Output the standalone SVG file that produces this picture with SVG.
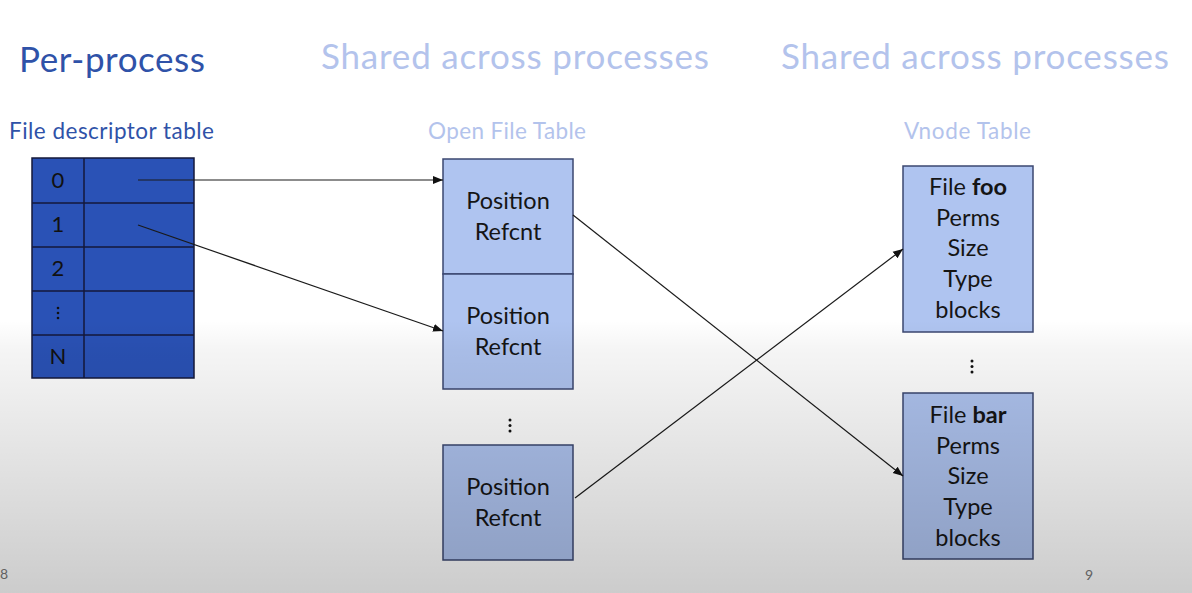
<svg xmlns="http://www.w3.org/2000/svg" width="1192" height="593" viewBox="0 0 1192 593">
  <defs>
    <linearGradient id="shade" x1="0" y1="0" x2="0" y2="593" gradientUnits="userSpaceOnUse">
      <stop offset="0" stop-color="#000" stop-opacity="0"/>
      <stop offset="0.54" stop-color="#000" stop-opacity="0"/>
      <stop offset="0.59" stop-color="#000" stop-opacity="0.04"/>
      <stop offset="1" stop-color="#000" stop-opacity="0.2"/>
    </linearGradient>
    <marker id="arrow" viewBox="0 0 10 10" refX="10" refY="5" markerWidth="10" markerHeight="10" markerUnits="userSpaceOnUse" orient="auto">
      <path d="M0,1 L10,5 L0,9 z" fill="#111"/>
    </marker>
  </defs>
  <style>
    text { font-family: Lato, "Open Sans", "Liberation Sans", sans-serif; }
    .head { font-size: 35px; }
    .dark { fill: #2f52a8; }
    .light { fill: #b3c3ec; }
    .sub { font-size: 22.5px; }
    .fd { fill: #2a52b6; stroke: #14193a; stroke-width: 1.5; }
    .fdline { stroke: #14193a; stroke-width: 1.5; }
    .fdnum { font-size: 22px; fill: #111; text-anchor: middle; }
    .box { fill: #afc4f0; stroke: #3b4770; stroke-width: 1.5; }
    .lbl { font-size: 23.5px; fill: #151515; text-anchor: middle; }
    .conn { stroke: #1a1a1a; stroke-width: 1.2; fill: none; marker-end: url(#arrow); }
    .dots { fill: #111; }
    .pg { font-size: 14px; fill: #777; }
  </style>

  <rect width="1192" height="593" fill="#fff"/>

  <!-- Column headings -->
  <g id="headings">
    <text class="head dark" x="19" y="72" textLength="186">Per-process</text>
    <text class="head light" x="321" y="69" textLength="388">Shared across processes</text>
    <text class="head light" x="781" y="69" textLength="388">Shared across processes</text>
    <text class="sub dark" x="9" y="139" textLength="205">File descriptor table</text>
    <text class="sub light" x="428" y="139" textLength="158">Open File Table</text>
    <text class="sub light" x="904" y="139" textLength="127">Vnode Table</text>
  </g>

  <!-- File descriptor table -->
  <g id="fd-table">
    <rect class="fd" x="32" y="158" width="162" height="220"/>
    <line class="fdline" x1="84" y1="158" x2="84" y2="378"/>
    <line class="fdline" x1="32" y1="203" x2="194" y2="203"/>
    <line class="fdline" x1="32" y1="247" x2="194" y2="247"/>
    <line class="fdline" x1="32" y1="291" x2="194" y2="291"/>
    <line class="fdline" x1="32" y1="335" x2="194" y2="335"/>
    <text class="fdnum" x="58" y="188">0</text>
    <text class="fdnum" x="58" y="232">1</text>
    <text class="fdnum" x="58" y="276">2</text>
    <g class="dots">
      <circle cx="58" cy="308" r="1.3"/>
      <circle cx="58" cy="313" r="1.3"/>
      <circle cx="58" cy="318" r="1.3"/>
    </g>
    <text class="fdnum" x="58" y="364">N</text>
  </g>

  <!-- Open file table entries -->
  <g id="oft-entry-1">
    <rect class="box" x="443" y="159" width="130" height="115"/>
    <text class="lbl" x="508" y="209">Position</text>
    <text class="lbl" x="508" y="240">Refcnt</text>
  </g>
  <g id="oft-entry-2">
    <rect class="box" x="443" y="274" width="130" height="115"/>
    <text class="lbl" x="508" y="324">Position</text>
    <text class="lbl" x="508" y="355">Refcnt</text>
  </g>
  <g id="oft-ellipsis" class="dots">
    <circle cx="510" cy="420" r="1.5"/>
    <circle cx="510" cy="425.5" r="1.5"/>
    <circle cx="510" cy="431" r="1.5"/>
  </g>
  <g id="oft-entry-3">
    <rect class="box" x="443" y="445" width="130" height="115"/>
    <text class="lbl" x="508" y="495">Position</text>
    <text class="lbl" x="508" y="526">Refcnt</text>
  </g>

  <!-- Vnode table entries -->
  <g id="vnode-foo">
    <rect class="box" x="903" y="166" width="130" height="166"/>
    <text class="lbl" x="968" y="195">File <tspan font-weight="bold">foo</tspan></text>
    <text class="lbl" x="968" y="226">Perms</text>
    <text class="lbl" x="968" y="256">Size</text>
    <text class="lbl" x="968" y="287">Type</text>
    <text class="lbl" x="968" y="318">blocks</text>
  </g>
  <g id="vnode-ellipsis" class="dots">
    <circle cx="972" cy="361" r="1.5"/>
    <circle cx="972" cy="366.5" r="1.5"/>
    <circle cx="972" cy="372" r="1.5"/>
  </g>
  <g id="vnode-bar">
    <rect class="box" x="903" y="393" width="130" height="166"/>
    <text class="lbl" x="968" y="423">File <tspan font-weight="bold">bar</tspan></text>
    <text class="lbl" x="968" y="454">Perms</text>
    <text class="lbl" x="968" y="484">Size</text>
    <text class="lbl" x="968" y="515">Type</text>
    <text class="lbl" x="968" y="546">blocks</text>
  </g>

  <!-- Pointers between tables -->
  <g id="connectors">
    <line class="conn" x1="138" y1="180" x2="443" y2="180"/>
    <line class="conn" x1="138" y1="225" x2="443" y2="331"/>
    <line class="conn" x1="573" y1="215" x2="903" y2="476"/>
    <line class="conn" x1="575" y1="498" x2="903" y2="249"/>
  </g>

  <!-- Slide numbers -->
  <text class="pg" x="0" y="579">8</text>
  <text class="pg" x="1085" y="580">9</text>

  <!-- Darkening toward the bottom edge -->
  <rect width="1192" height="593" fill="url(#shade)" pointer-events="none"/>
</svg>
